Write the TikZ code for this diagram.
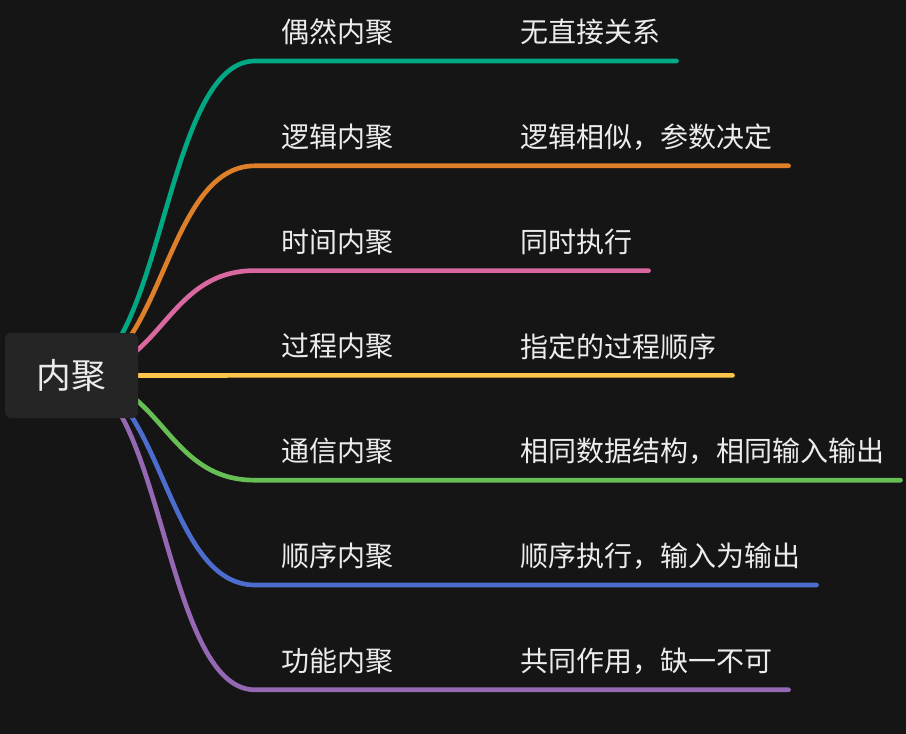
\documentclass[tikz,border=0pt]{standalone}
\usepackage{fontspec}
\newfontfamily\cjk{Noto Sans CJK SC}
\usepackage{tikz}
\usetikzlibrary{positioning,calc,backgrounds}
\definecolor{mapBg}{RGB}{21,21,21}
\definecolor{rootFill}{RGB}{37,37,37}
\definecolor{mapText}{RGB}{236,236,236}
\definecolor{mapTeal}{RGB}{0,168,132}
\definecolor{mapOrange}{RGB}{222,128,42}
\definecolor{mapPink}{RGB}{218,104,160}
\definecolor{mapYellow}{RGB}{252,196,72}
\definecolor{mapGreen}{RGB}{102,190,84}
\definecolor{mapBlue}{RGB}{76,108,206}
\definecolor{mapPurple}{RGB}{148,104,178}

\begin{document}
\begin{tikzpicture}[x=0.75pt,y=-0.75pt,
  rootbox/.style={fill=rootFill,rounded corners=4.5pt,minimum width=99.75pt,
    minimum height=63.75pt,text=mapText,font=\cjk\fontsize{26}{30}\selectfont},
  topic/.style={anchor=west,inner sep=0pt,text=mapText,font=\cjk\fontsize{21}{25}\selectfont},
  branch/.style={line width=3.5pt,line cap=round}]
  % dark canvas (fixes the page size too)
  \begin{scope}[on background layer]
    \fill[mapBg] (0,0) rectangle (906,734);
  \end{scope}
  % centre topic
  \node[rootbox] (root) at (71.5,375.5) {内聚};
  % rows: lines at y=61 ... 690, step 104.8
  \foreach \i/\col/\ta/\tb in {1/mapTeal/偶然内聚/无直接关系,
      2/mapOrange/逻辑内聚/逻辑相似，参数决定,
      3/mapPink/时间内聚/同时执行,
      4/mapYellow/过程内聚/指定的过程顺序,
      5/mapGreen/通信内聚/相同数据结构，相同输入输出,
      6/mapBlue/顺序内聚/顺序执行，输入为输出,
      7/mapPurple/功能内聚/共同作用，缺一不可} {
    \pgfmathsetmacro\ly{61+104.8*(\i-1)}
    \coordinate (j\i) at (255,\ly);
    \node[topic] (a\i) at (281,\ly-29) {\ta};
    \node[topic] (c\i) at (520,\ly-29) {\tb};
    % curve from the centre, hidden under the root box
    \begin{scope}[on background layer]
      \draw[branch,\col] (root.center) .. controls +(91.5,0) and +(-91.5,0) .. (j\i)
        -- ($(c\i.east |- j\i)+(16,0)$);
    \end{scope}
  }
\end{tikzpicture}
\end{document}
